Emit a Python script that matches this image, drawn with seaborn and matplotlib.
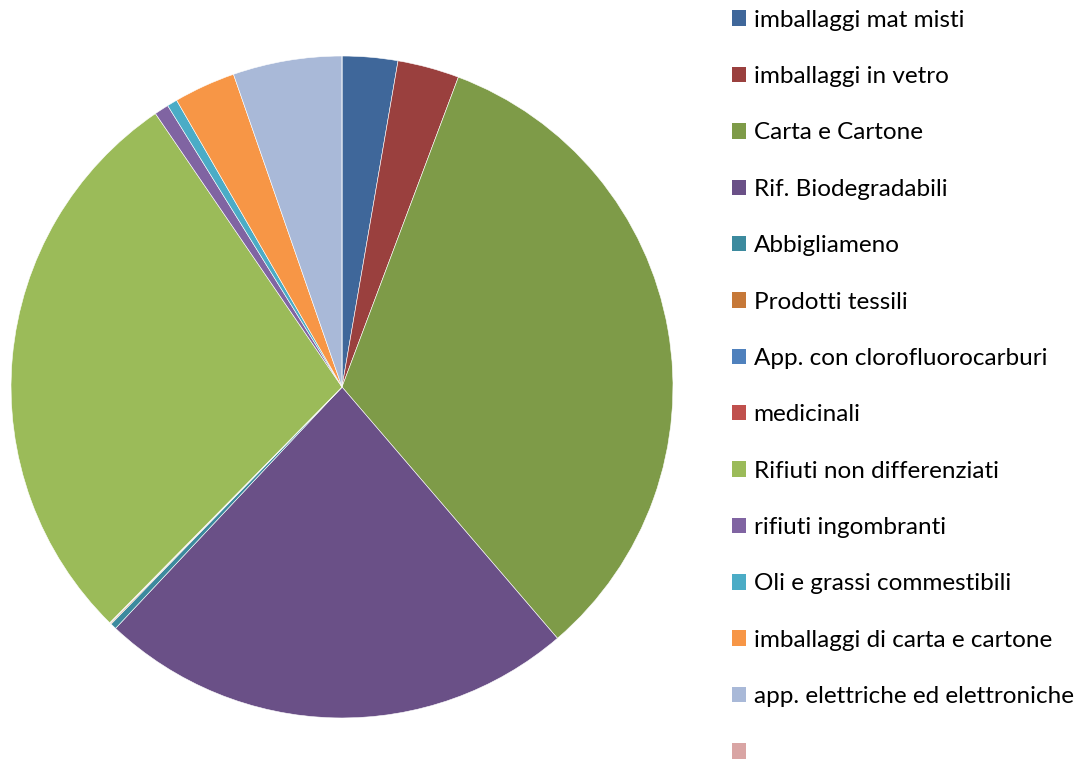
import matplotlib
matplotlib.use('Agg')
import matplotlib.pyplot as plt
from matplotlib.patches import Patch
import seaborn as sns

categorie = ['imballaggi mat misti', 'imballaggi in vetro', 'Carta e Cartone',
             'Rif. Biodegradabili', 'Abbigliameno', 'Prodotti tessili',
             'App. con clorofluorocarburi', 'medicinali', 'Rifiuti non differenziati',
             'rifiuti ingombranti', 'Oli e grassi commestibili',
             'imballaggi di carta e cartone', 'app. elettriche ed elettroniche', '']
valori = [2.7, 3.0, 32.9, 23.2, 0.3, 0.05, 0.02, 0.02, 28.0, 0.7, 0.5, 3.0, 5.3, 0.0]
colori = ['#3F679A', '#9A403E', '#7E9B48', '#6A5087', '#3C8A9E', '#C67838',
          '#4F81BD', '#C0504D', '#9BBB59', '#8064A2', '#4BACC6', '#F79646',
          '#A9B9D8', '#D9A5A4']

sns.set_theme(style='white')
plt.rcParams['font.family'] = ['Lato', 'DejaVu Sans']
plt.rcParams['text.color'] = 'black'
palette = sns.color_palette(colori)

fig = plt.figure(figsize=(10.89, 7.6), dpi=100)
ax = fig.add_axes([0.0101, 0.0553, 0.6079, 0.871])
ax.pie(valori, colors=palette, startangle=90, counterclock=False,
       wedgeprops=dict(edgecolor='white', linewidth=0.4))
ax.set_xlim(-1, 1)
ax.set_ylim(-1, 1)
ax.set_aspect('equal')

handles = [Patch(facecolor=c, edgecolor='none', label=l) for c, l in zip(palette, categorie)]
fig.legend(handles=handles, labels=categorie, loc='upper left',
           bbox_to_anchor=(0.663, 1.0), frameon=False, fontsize=17.5,
           handlelength=0.6, handleheight=0.6, handletextpad=0.3,
           labelspacing=1.455, borderaxespad=0)

fig.savefig('out.png', dpi=100)
